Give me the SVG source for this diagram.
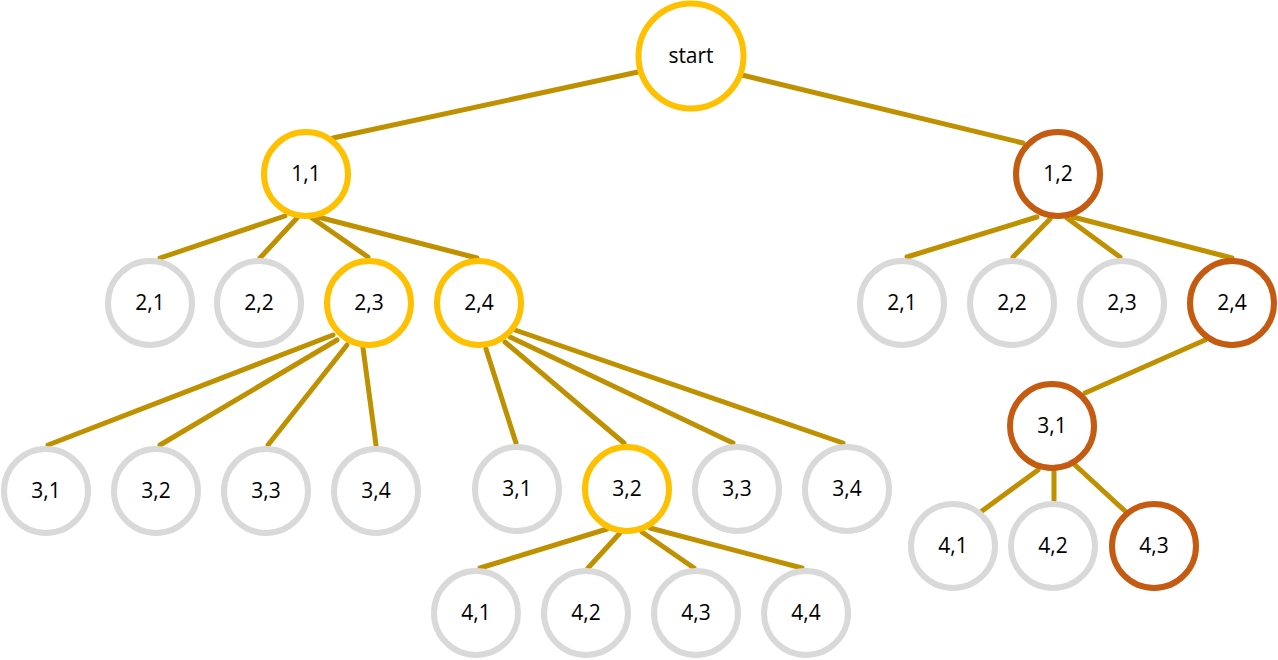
<svg xmlns="http://www.w3.org/2000/svg" width="1278" height="660" viewBox="0 0 1278 660">
<style>
.e{stroke:#BF9000;stroke-width:5;stroke-linecap:round;fill:none}
circle{fill:#FFFFFF;stroke-width:6}
.g circle{stroke:#D9D9D9}
.y circle{stroke:#FFC000}
.o circle{stroke:#C55A11}
text{font-family:"Open Sans","Liberation Sans",sans-serif;font-size:21px;fill:#000000;text-anchor:middle}
</style>
<rect width="1278" height="660" fill="#FFFFFF"/>
<g id="connectors">
<line class="e" x1="638" y1="72" x2="333" y2="138"/>
<line class="e" x1="742" y1="75" x2="1023" y2="143"/>
<line class="e" x1="160" y1="258" x2="285" y2="216"/>
<line class="e" x1="260" y1="258" x2="297" y2="218"/>
<line class="e" x1="368" y1="257" x2="312" y2="218"/>
<line class="e" x1="477" y1="258" x2="318" y2="217"/>
<line class="e" x1="907" y1="257" x2="1037" y2="217"/>
<line class="e" x1="1013" y1="257" x2="1050" y2="219"/>
<line class="e" x1="1120" y1="257" x2="1067" y2="218"/>
<line class="e" x1="1232" y1="258" x2="1073" y2="217"/>
<line class="e" x1="48" y1="445" x2="333" y2="335"/>
<line class="e" x1="160" y1="445" x2="337" y2="340"/>
<line class="e" x1="268" y1="445" x2="347" y2="345"/>
<line class="e" x1="376" y1="445" x2="363" y2="348"/>
<line class="e" x1="516" y1="443" x2="486" y2="349"/>
<line class="e" x1="624" y1="443" x2="505" y2="342"/>
<line class="e" x1="733" y1="443" x2="510" y2="337"/>
<line class="e" x1="843" y1="443" x2="515" y2="330"/>
<line class="e" x1="480" y1="568" x2="607" y2="529"/>
<line class="e" x1="588" y1="568" x2="620" y2="533"/>
<line class="e" x1="694" y1="568" x2="642" y2="532"/>
<line class="e" x1="802" y1="568" x2="650" y2="528"/>
<line class="e" x1="1085" y1="393" x2="1205" y2="340"/>
<line class="e" x1="982" y1="511" x2="1038" y2="470"/>
<line class="e" x1="1054" y1="500" x2="1054" y2="472"/>
<line class="e" x1="1125" y1="511" x2="1075" y2="465"/>
</g>
<g id="n-start" class="y"><circle cx="691" cy="56" r="52.5"/><text x="691" y="63">start</text></g>
<g id="n-1-1" class="y"><circle cx="306" cy="174" r="42"/><text x="306" y="181">1,1</text></g>
<g id="n-1-2" class="o"><circle cx="1058" cy="174" r="42"/><text x="1058" y="181">1,2</text></g>
<g id="n-a-2-1" class="g"><circle cx="150" cy="303" r="42"/><text x="150" y="310">2,1</text></g>
<g id="n-a-2-2" class="g"><circle cx="259" cy="303" r="42"/><text x="259" y="310">2,2</text></g>
<g id="n-a-2-3" class="y"><circle cx="369" cy="303" r="42"/><text x="369" y="310">2,3</text></g>
<g id="n-a-2-4" class="y"><circle cx="479" cy="303" r="42"/><text x="479" y="310">2,4</text></g>
<g id="n-b-2-1" class="g"><circle cx="902" cy="303" r="42"/><text x="902" y="310">2,1</text></g>
<g id="n-b-2-2" class="g"><circle cx="1012" cy="303" r="42"/><text x="1012" y="310">2,2</text></g>
<g id="n-b-2-3" class="g"><circle cx="1122" cy="303" r="42"/><text x="1122" y="310">2,3</text></g>
<g id="n-b-2-4" class="o"><circle cx="1232" cy="303" r="42"/><text x="1232" y="310">2,4</text></g>
<g id="n-a-3-1" class="g"><circle cx="46" cy="491" r="42"/><text x="46" y="498">3,1</text></g>
<g id="n-a-3-2" class="g"><circle cx="156" cy="491" r="42"/><text x="156" y="498">3,2</text></g>
<g id="n-a-3-3" class="g"><circle cx="266" cy="491" r="42"/><text x="266" y="498">3,3</text></g>
<g id="n-a-3-4" class="g"><circle cx="376" cy="491" r="42"/><text x="376" y="498">3,4</text></g>
<g id="n-c-3-1" class="g"><circle cx="517" cy="489" r="42"/><text x="517" y="496">3,1</text></g>
<g id="n-c-3-2" class="y"><circle cx="627" cy="489" r="42"/><text x="627" y="496">3,2</text></g>
<g id="n-c-3-3" class="g"><circle cx="737" cy="489" r="42"/><text x="737" y="496">3,3</text></g>
<g id="n-c-3-4" class="g"><circle cx="847" cy="489" r="42"/><text x="847" y="496">3,4</text></g>
<g id="n-c-4-1" class="g"><circle cx="476" cy="613" r="42"/><text x="476" y="620">4,1</text></g>
<g id="n-c-4-2" class="g"><circle cx="586" cy="613" r="42"/><text x="586" y="620">4,2</text></g>
<g id="n-c-4-3" class="g"><circle cx="696" cy="613" r="42"/><text x="696" y="620">4,3</text></g>
<g id="n-c-4-4" class="g"><circle cx="806" cy="613" r="42"/><text x="806" y="620">4,4</text></g>
<g id="n-b-3-1" class="o"><circle cx="1052" cy="426" r="42"/><text x="1052" y="433">3,1</text></g>
<g id="n-b-4-1" class="g"><circle cx="953" cy="546" r="42"/><text x="953" y="553">4,1</text></g>
<g id="n-b-4-2" class="g"><circle cx="1053" cy="546" r="42"/><text x="1053" y="553">4,2</text></g>
<g id="n-b-4-3" class="o"><circle cx="1154" cy="546" r="42"/><text x="1154" y="553">4,3</text></g>
</svg>
